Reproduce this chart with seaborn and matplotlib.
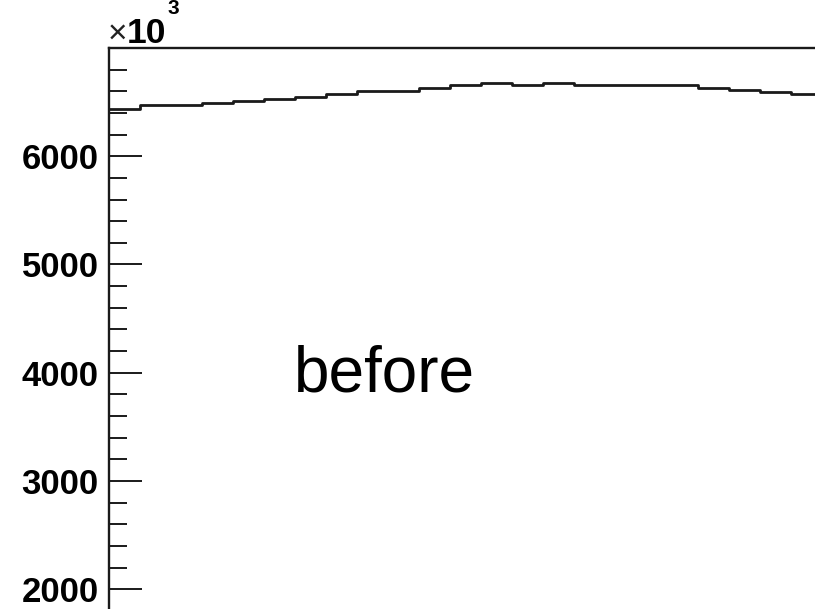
import numpy as np
import matplotlib
matplotlib.use("Agg")
import matplotlib.pyplot as plt
from matplotlib.ticker import MultipleLocator, FuncFormatter
import seaborn as sns

# Bin contents (in units of 10^3 entries), one value per bin
bin_index = list(range(23))
counts_k = [6434, 6471, 6471, 6493, 6514, 6530, 6545, 6575, 6603, 6603,
            6634, 6655, 6677, 6655, 6677, 6655, 6655, 6655, 6655, 6633,
            6615, 6596, 6575]
bin_edges = list(range(24))
label_text = "before"

sns.set_style("ticks")
plt.rcParams["font.family"] = ["Liberation Sans", "DejaVu Sans"]

W, H = 815, 609
fig = plt.figure(figsize=(W / 100, H / 100), dpi=100)

# frame geometry in pixels
left_px, top_px = 108.5, 48.0
bin_px = 31.03
px_per_unit = 0.10825
x_lo, x_hi = 0, 23
y_lo, y_hi = 0, 7000
ax_w = (x_hi - x_lo) * bin_px
ax_h = (y_hi - y_lo) * px_per_unit
ax = fig.add_axes([left_px / W, 1 - (top_px + ax_h) / H, ax_w / W, ax_h / H])

centers = [i + 0.5 for i in bin_index]
sns.histplot(x=centers, weights=counts_k, bins=bin_edges, element="step",
             fill=False, color="#1a1a1a", linewidth=2.0, ax=ax)

ax.set_xlim(x_lo, x_hi)
ax.set_ylim(y_lo, y_hi)
ax.set_xlabel("")
ax.set_ylabel("")

for s in ax.spines.values():
    s.set_visible(True)
    s.set_linewidth(1.7)
    s.set_color("#1a1a1a")

ax.yaxis.set_major_locator(MultipleLocator(1000))
ax.yaxis.set_minor_locator(MultipleLocator(200))
ax.yaxis.set_major_formatter(FuncFormatter(lambda v, p: f"{int(round(v))}" if v < 7000 else ""))
ax.tick_params(axis="y", which="major", direction="in", length=24.0, width=1.4,
               color="#1a1a1a", pad=7.0, labelsize=25, labelcolor="black")
ax.tick_params(axis="y", which="minor", direction="in", length=12.8, width=1.4,
               color="#1a1a1a")
ax.tick_params(axis="x", which="both", bottom=False, labelbottom=False)
for lab in ax.get_yticklabels():
    lab.set_fontweight("bold")

# exponent marker above the y axis
fig.text(108 / W, 1 - 43 / H, "\u00d7", fontsize=24, ha="left", va="baseline",
         color="#222222")
fig.text(126.5 / W, 1 - 43 / H, "10", fontsize=25.5, fontweight="bold",
         ha="left", va="baseline", color="black")
fig.text(167.5 / W, 1 - 13.5 / H, "3", fontsize=15, fontweight="bold",
         ha="left", va="baseline", color="black")

fig.text(293.5 / W, 1 - 392 / H, label_text, fontsize=46, ha="left",
         va="baseline", color="black")

fig.savefig("out.png", dpi=100)
